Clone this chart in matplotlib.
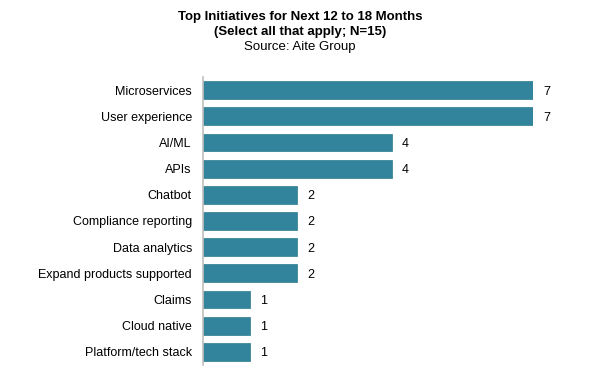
import matplotlib
matplotlib.use("Agg")
import matplotlib.pyplot as plt

categories = ["Microservices", "User experience", "AI/ML", "APIs", "Chatbot",
              "Compliance reporting", "Data analytics", "Expand products supported",
              "Claims", "Cloud native", "Platform/tech stack"]
values = [7, 7, 4, 4, 2, 2, 2, 2, 1, 1, 1]
title_lines = ["Top Initiatives for Next 12 to 18 Months", "(Select all that apply; N=15)"]
source = "Source: Aite Group"

plt.rcParams['font.family'] = ['Liberation Sans', 'DejaVu Sans']

fig = plt.figure(figsize=(6, 3.83), dpi=100)
ax = fig.add_axes([203/600, 1-365/383, (533-203)/600, 288/383])
y = list(range(len(categories)))
bars = ax.barh(y, values, height=0.68, color="#31849B", edgecolor="#2A7A8F", linewidth=0.5)
ax.set_ylim(len(categories)-0.5, -0.5)
ax.set_xlim(0, 7)
ax.set_yticks(y)
ax.set_yticklabels(categories, fontsize=9, color="#000000")
ax.tick_params(axis='y', length=0, pad=8)
ax.set_xticks([])
for s in ['top', 'right', 'bottom']:
    ax.spines[s].set_visible(False)
ax.spines['left'].set_color("#BFBFBF")
ax.spines['left'].set_linewidth(1.2)
for yi, v in zip(y, values):
    ax.annotate(str(v), (v, yi), xytext=(7.5, 0), textcoords='offset points',
                va='center_baseline', ha='left', fontsize=9, annotation_clip=False)

fig.text(0.5, 1-17/383, title_lines[0], ha='center', va='center', fontsize=9.5, fontweight='bold')
fig.text(0.5, 1-32/383, title_lines[1], ha='center', va='center', fontsize=9.5, fontweight='bold')
fig.text(0.5, 1-47/383, source, ha='center', va='center', fontsize=9.5)

fig.savefig("out.png", dpi=100)
